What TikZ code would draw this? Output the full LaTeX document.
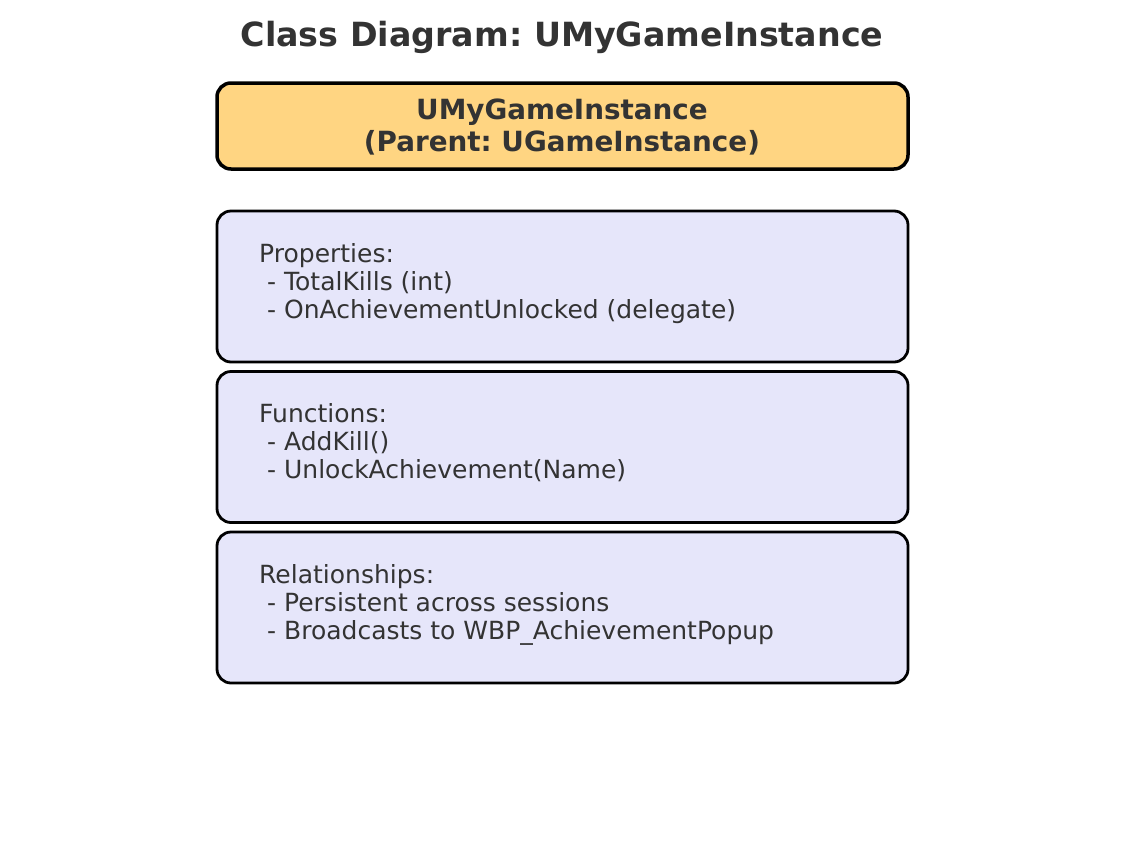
\documentclass[tikz,border=0pt]{standalone}
\usepackage{fontspec}
\setmainfont{DejaVu Sans}
\frenchspacing
\definecolor{txt}{HTML}{333333}
\definecolor{hdrfill}{HTML}{FFD582}
\definecolor{boxfill}{HTML}{E6E6FA}
\tikzset{
  hdrbox/.style={draw=black, line width=3.5pt, fill=hdrfill, rounded corners=14pt},
  membox/.style={draw=black, line width=2.8pt, fill=boxfill, rounded corners=14pt},
  titletext/.style={text=txt, font=\fontsize{33.3}{40}\selectfont\bfseries, inner sep=0pt, anchor=base},
  hdrtext/.style={text=txt, font=\fontsize{27.8}{32}\selectfont\bfseries, inner sep=0pt, anchor=base},
  bodytext/.style={text=txt, font=\fontsize{25}{30}\selectfont, inner sep=0pt, anchor=base west},
}
\begin{document}
\frenchspacing
\begin{tikzpicture}[x=1pt,y=-1pt]
\useasboundingbox (0,0) rectangle (1124,852);
\node[titletext] (title) at (562,46.5) {Class Diagram: UMyGameInstance};
% header
\draw[hdrbox] (217,83) rectangle (908,169);
\node[hdrtext] (h1) at (562,119) {UMyGameInstance};
\node[hdrtext] (h2) at (562,151) {(Parent: UGameInstance)};
% properties
\draw[membox] (217,211) rectangle (908,362);
\node[bodytext] (p0) at (259,262) {Properties:};
\node[bodytext] (p1) at (259,290) {\ - TotalKills (int)};
\node[bodytext] (p2) at (259,318) {\ - OnAchievementUnlocked (delegate)};
% functions
\draw[membox] (217,371.5) rectangle (908,522.5);
\node[bodytext] (f0) at (259,422.5) {Functions:};
\node[bodytext] (f1) at (259,450.5) {\ - AddKill()};
\node[bodytext] (f2) at (259,478.5) {\ - UnlockAchievement(Name)};
% relationships
\draw[membox] (217,532) rectangle (908,683);
\node[bodytext] (r0) at (259,583) {Relationships:};
\node[bodytext] (r1) at (259,611) {\ - Persistent across sessions};
\node[bodytext] (r2) at (259,639) {\ - Broadcasts to WBP\_AchievementPopup};
\end{tikzpicture}
\end{document}
